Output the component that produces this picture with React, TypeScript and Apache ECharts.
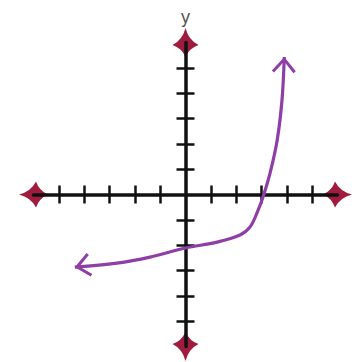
import { useEffect, useRef } from "react";
import * as echarts from "echarts";

// Axis ranges and tick values
const axisMin = -6;
const axisMax = 6;
const tickValues = [-5, -4, -3, -2, -1, 1, 2, 3, 4, 5];

// Curve points (x, y in axis units)
const curveX = [-4.37, -2.71, -1.4, 0, 1.25, 2.15, 2.55, 2.87, 3.06, 3.34, 3.62, 3.81, 3.9];
const curveY = [-2.87, -2.71, -2.47, -2.11, -1.88, -1.6, -1.28, -0.61, -0.1, 0.85, 2.15, 3.74, 5.43];

const AXIS_ARROW = "path://M0,0Q3,12 13,17Q4,20 0,29Q-4,20 -13,17Q-3,12 0,0Z";
const CHEVRON = "path://M0,-16L0,-16ZM0,0L12,14L9.7,16L0,4.6L-9.7,16L-12,14Z";

export default function App() {
  const ref = useRef<HTMLDivElement>(null);
  useEffect(() => {
    if (!ref.current) return;
    const chart = echarts.init(ref.current, undefined, { renderer: "svg" });
    const last = curveX.length - 1;
    const tick = (inside: boolean) => ({
      show: true,
      inside,
      length: 9,
      customValues: tickValues,
      lineStyle: { color: "#111", width: 2.5 },
    });
    const arrowAxis = (dim: "x" | "y") => ({
      type: "value",
      min: axisMin,
      max: axisMax,
      interval: 1,
      position: dim === "x" ? "bottom" : "left",
      z: 0,
      axisLine: {
        show: true,
        onZero: true,
        onZeroAxisIndex: 0,
        symbol: [AXIS_ARROW, AXIS_ARROW],
        symbolSize: [26, 29],
        lineStyle: { color: "#a01c3e", width: 0 },
      },
      axisTick: tick(true),
      axisLabel: { show: false },
      splitLine: { show: false },
    });
    const lineAxis = (dim: "x" | "y") => ({
      type: "value",
      min: axisMin,
      max: axisMax,
      interval: 1,
      position: dim === "x" ? "bottom" : "left",
      z: 1,
      axisLine: {
        show: true,
        onZero: true,
        onZeroAxisIndex: 0,
        lineStyle: { color: "#111", width: 3.5 },
      },
      axisTick: tick(false),
      axisLabel: { show: false },
      splitLine: { show: false },
    });
    chart.setOption({
      animation: false,
      backgroundColor: "#ffffff",
      grid: { left: 33.5, right: 22.5, top: 42.5, bottom: 15.5 },
      xAxis: [arrowAxis("x"), lineAxis("x")],
      yAxis: [
        {
          ...arrowAxis("y"),
          name: "y",
          nameLocation: "end",
          nameGap: 17,
          nameTextStyle: { color: "#555", fontSize: 17, fontFamily: "DejaVu Sans" },
        },
        lineAxis("y"),
      ],
      series: [
        {
          type: "line",
          xAxisIndex: 0,
          yAxisIndex: 0,
          smooth: 0.35,
          showAllSymbol: true,
          data: curveX.map((x, i) => [x, curveY[i]]),
          symbol: (_v: any, p: any) =>
            p.dataIndex === 0 || p.dataIndex === last ? CHEVRON : "none",
          symbolSize: [24, 32],
          symbolRotate: (_v: any, p: any) => (p.dataIndex === 0 ? 100 : -2),
          itemStyle: { color: "#8e3ea6", borderWidth: 0 },
          lineStyle: { color: "#8e3ea6", width: 3.2 },
          z: 3,
        },
      ],
    });
    return () => chart.dispose();
  }, []);
  return (
    <div
      ref={ref}
      style={{ position: "fixed", left: 0, top: 0, width: 360, height: 362 }}
    />
  );
}
